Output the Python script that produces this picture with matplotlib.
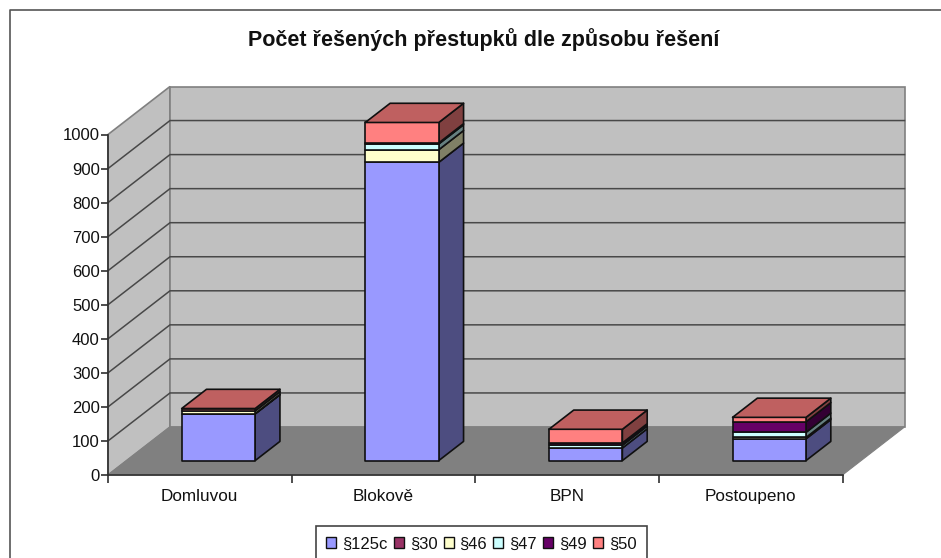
import matplotlib
matplotlib.use("Agg")
import matplotlib.pyplot as plt
from matplotlib.patches import Polygon, Patch
from matplotlib.colors import to_rgb

plt.rcParams['font.family'] = ['Liberation Sans', 'DejaVu Sans']

categories = ["Domluvou", "Blokově", "BPN", "Postoupeno"]
series_names = ["§125c", "§30", "§46", "§47", "§49", "§50"]
s125c = [137, 876, 37, 64]
s30 = [1, 0, 0, 0]
s46 = [8, 37, 0, 4]
s47 = [0, 17, 8, 15]
s49 = [0, 3, 7, 31]
s50 = [7, 60, 40, 13]
all_series = [s125c, s30, s46, s47, s49, s50]
colors = ["#9999FF", "#993366", "#FFFFCC", "#CCFFFF", "#660066", "#FF8080"]
yticks = list(range(0, 1001, 100))

W, H = 941, 558
fig = plt.figure(figsize=(W / 100, H / 100), dpi=100, facecolor="white")

# outer chart frame (cropped on the right and bottom)
fig.add_artist(plt.Line2D([9.5 / W, 9.5 / W, 1], [0, 1 - 10 / H, 1 - 10 / H], color="#555555", lw=1.2))

# axes covering the front plane of the 3D box
L, R, T, B = 108, 842.5, 134.5, 475
ax = fig.add_axes([L / W, 1 - B / H, (R - L) / W, (B - T) / H])
ax.set_xlim(0, 4)
ax.set_ylim(0, 1000)
ax.patch.set_visible(False)

DX = 62 / (R - L) * 4      # depth offset, category units
DY = 48 / (B - T) * 1000   # depth offset, value units


def P(c, v, d):
    return (c + d * DX, v + d * DY)


def poly(points, **kw):
    kw.setdefault("clip_on", False)
    ax.add_patch(Polygon(points, closed=True, **kw))


def shade(col, k):
    r, g, b = to_rgb(col)
    return (r * k, g * k, b * k)


wall = "#C0C0C0"
poly([P(0, 0, 0), P(0, 0, 1), P(0, 1000, 1), P(0, 1000, 0)], fc=wall, ec="#808080", lw=1.2, zorder=1)
poly([P(0, 0, 1), P(4, 0, 1), P(4, 1000, 1), P(0, 1000, 1)], fc=wall, ec="#808080", lw=1.2, zorder=1)
poly([P(0, 0, 0), P(4, 0, 0), P(4, 0, 1), P(0, 0, 1)], fc="#808080", ec="#808080", lw=0.8, zorder=1)

for v in yticks[1:-1]:
    a, b, c = P(0, v, 0), P(0, v, 1), P(4, v, 1)
    ax.plot([a[0], b[0], c[0]], [a[1], b[1], c[1]], color="#484848", lw=1.1, clip_on=False, zorder=2)

# stacked 3D bars
bw, d0, d1 = 0.4, 0.3, 0.7
for i in range(len(categories)):
    x0, x1 = i + 0.5 - bw / 2, i + 0.5 + bw / 2
    base = 0
    segs = [(all_series[k][i], colors[k]) for k in range(len(all_series)) if all_series[k][i] > 0]
    for j, (val, col) in enumerate(segs):
        top = base + val
        style = dict(ec="#101010", lw=1.2, zorder=5 + i + j * 0.01, joinstyle="round")
        poly([P(x1, base, d0), P(x1, base, d1), P(x1, top, d1), P(x1, top, d0)], fc=shade(col, 0.5), **style)
        poly([P(x0, base, d0), P(x1, base, d0), P(x1, top, d0), P(x0, top, d0)], fc=col, **style)
        if j == len(segs) - 1:
            poly([P(x0, top, d0), P(x1, top, d0), P(x1, top, d1), P(x0, top, d1)], fc=shade(col, 0.75), **style)
        base = top

# axes, ticks and labels
for s in ("top", "right"):
    ax.spines[s].set_visible(False)
for s in ("left", "bottom"):
    ax.spines[s].set_color("#303030")
    ax.spines[s].set_linewidth(1.2)
    ax.spines[s].set_zorder(3)
ax.set_yticks(yticks)
ax.set_xticks(range(5))
ax.set_xticklabels([])
ax.set_xticks([i + 0.5 for i in range(4)], minor=True)
ax.set_xticklabels(categories, minor=True)
ax.tick_params(axis="y", length=5, width=1.2, color="#303030", labelsize=12, pad=1, labelcolor="#111111")
ax.tick_params(axis="x", which="major", length=6, width=1.2, color="#303030")
ax.tick_params(axis="x", which="minor", length=0, labelsize=12.3, pad=10, labelcolor="#111111")

fig.text(484 / W, 1 - 40 / H, "Počet řešených přestupků dle způsobu řešení", ha="center", va="center",
         fontsize=15.5, fontweight="bold", color="#111111")

handles = [Patch(fc=c, ec="#101010", lw=1.0, label=n) for c, n in zip(colors, series_names)]
leg = fig.legend(handles=handles, loc="center", bbox_to_anchor=(481.5 / W, 1 - 544 / H), ncol=6, fontsize=12,
                 frameon=True, fancybox=False, edgecolor="#444444", facecolor="white", framealpha=1,
                 handlelength=0.6, handleheight=0.6, handletextpad=0.35, columnspacing=0.38, borderpad=0.62,
                 borderaxespad=0)
leg.get_frame().set_linewidth(1.2)
for t in leg.get_texts():
    t.set_color("#111111")

fig.savefig("out.png", dpi=100)
